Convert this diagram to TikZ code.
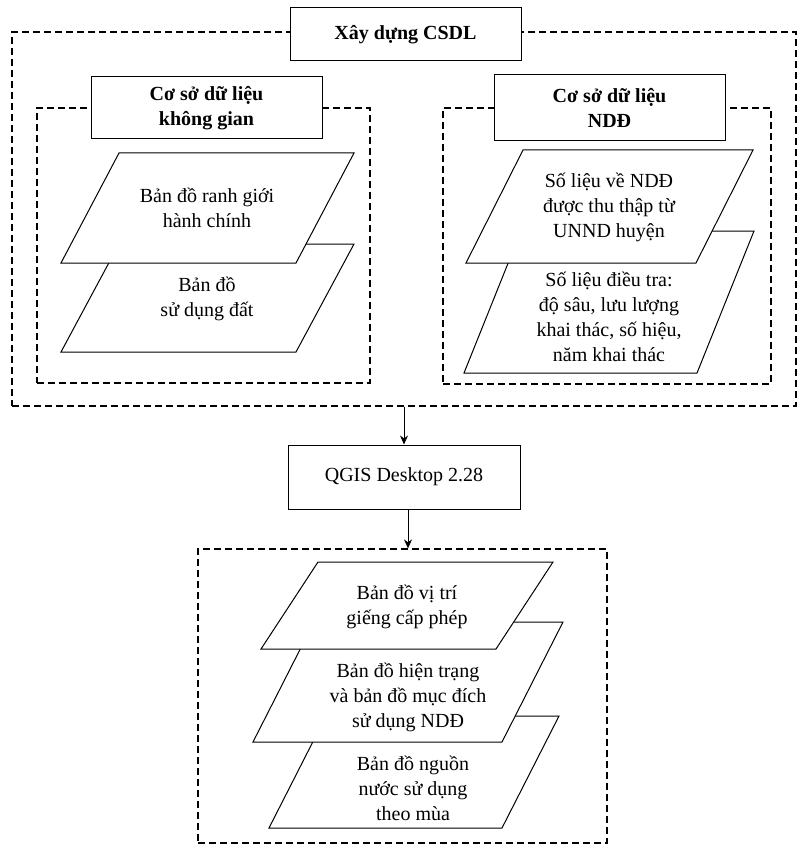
\documentclass[tikz,border=0pt]{standalone}
\usepackage{fontspec}
\setmainfont{Liberation Serif}
\usepackage{tikz}
\usetikzlibrary{arrows.meta}

\begin{document}
\begin{tikzpicture}[x=1pt,y=-1pt,
    txt/.style={align=center,inner sep=0pt,font=\fontsize{20}{25}\selectfont},
    group/.style={draw,line width=1.2pt,dash pattern=on 7pt off 4pt,inner sep=0pt},
    lbl/.style={draw,fill=white,line width=1pt,inner sep=0pt,align=center,font=\fontsize{20}{25}\selectfont\bfseries},
    layer/.style={draw,fill=white,line width=1pt}]
  \useasboundingbox (0,0) rectangle (798,845);
  % dashed groups
  \node[group,minimum width=784pt,minimum height=374pt] (csdl) at (404,219) {};
  \node[group,minimum width=333pt,minimum height=275pt] (kgian) at (203.5,245.5) {};
  \node[group,minimum width=328pt,minimum height=276pt] (ndd) at (607,246) {};
  \node[group,minimum width=409pt,minimum height=294pt] (maps) at (402.5,696) {};
  % labels
  \node[lbl,minimum width=231pt,minimum height=53pt] (title) at (405.5,34.5) {X\^ay dựng CSDL};
  \node[lbl,minimum width=231pt,minimum height=62pt] (kgianlbl) at (206.5,108) {Cơ sở dữ liệu\\không gian};
  \node[lbl,minimum width=231pt,minimum height=66pt] (nddlbl) at (609.5,108) {Cơ sở dữ liệu\\NDĐ};
  \node[lbl,font=\fontsize{20}{25}\selectfont,minimum width=232pt,minimum height=64pt] (qgis) at (404,477) {QGIS Desktop 2.28};
  % layers, spatial data
  \path[layer] (119,244) -- (354,244) -- (296,352) -- (61,352) -- cycle;
  \path[layer] (119,153) -- (354,153) -- (296,263) -- (61,263) -- cycle;
  \node[txt] (ranhgioi) at (207,208) {Bản đồ ranh giới\\hành chính};
  \node[txt] (sddat) at (207,299) {Bản đồ\\sử dụng đất};
  % layers, groundwater data
  \path[layer] (521,231) -- (754,231) -- (697,373) -- (464,373) -- cycle;
  \path[layer] (523,150) -- (753,150) -- (696,263) -- (466,263) -- cycle;
  \node[txt] (thuthap) at (609,207) {Số liệu về NDĐ\\được thu thập từ\\UNND huyện};
  \node[txt] (dieutra) at (609,317) {Số liệu điều tra:\\độ sâu, lưu lượng\\khai thác, số hiệu,\\năm khai thác};
  % layers, output maps
  \path[layer] (326,716) -- (559,716) -- (502,828) -- (269,828) -- cycle;
  \path[layer] (314,622) -- (563,622) -- (502,742) -- (253,742) -- cycle;
  \path[layer] (318,562) -- (553,562) -- (496,649) -- (261,649) -- cycle;
  \node[txt] (vitri) at (407,607) {Bản đồ vị trí\\giếng cấp phép};
  \node[txt] (hientrang) at (408,697) {Bản đồ hiện trạng\\và bản đồ mục đích\\sử dụng NDĐ};
  \node[txt] (theomua) at (413,788) {Bản đồ nguồn\\nước sử dụng\\theo mùa};
  % flow
  \draw[-{Stealth[length=9pt,width=8pt]},line width=1pt] (csdl.south) -- (qgis.north);
  \draw[-{Stealth[length=9pt,width=8pt]},line width=1pt] ([xshift=4pt]qgis.south) -- ([xshift=4pt]qgis.south |- maps.north);
\end{tikzpicture}
\end{document}
